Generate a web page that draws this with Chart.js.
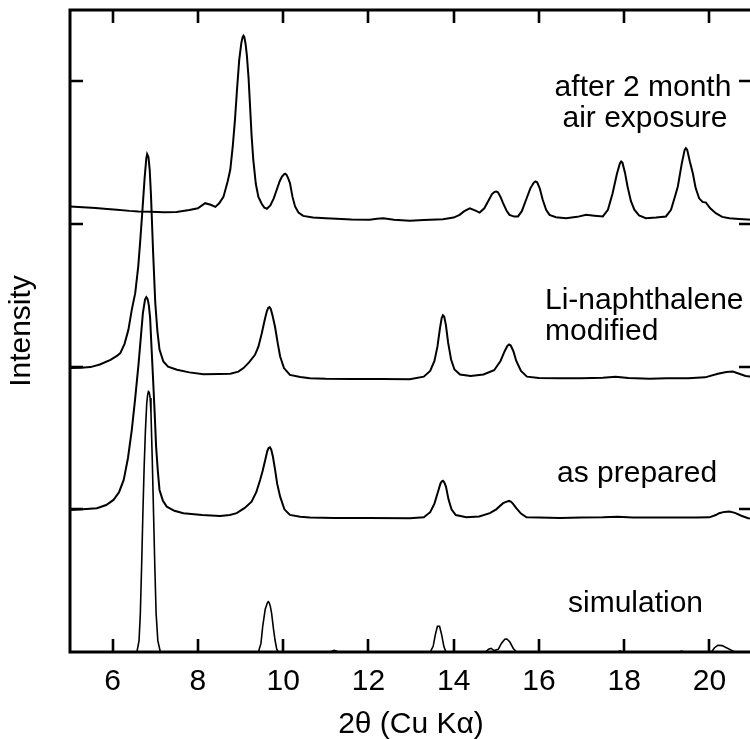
<!DOCTYPE html>
<html><head><meta charset="utf-8">
<script src="https://cdn.jsdelivr.net/npm/chart.js@4.4.1/dist/chart.umd.min.js"></script>
<style>
html,body{margin:0;padding:0;background:#fff;overflow:hidden;width:750px;height:739px;}
#wrap{position:relative;width:754px;height:739px;}
</style></head><body>
<div id="wrap"><canvas id="c"></canvas></div>
<script>
// ---- tick values ----
const xTickValues = [6, 8, 10, 12, 14, 16, 18, 20];
const yTickValues = [1, 2, 3, 4];

// ---- series labels ----
const seriesNames = ["after 2 month air exposure", "Li-naphthalene modified", "as prepared", "simulation"];

// ---- after 2 month air exposure (offset trace) ----
const airX = [5.0,5.3,5.6,5.8,6.1,6.4,6.6,6.9,7.2,7.5,7.8,8.0,8.17,8.3,8.41,8.5,8.6,8.7,8.76,8.82,8.87,8.92,8.97,9.02,9.05,9.07,9.09,9.12,9.15,9.19,9.22,9.26,9.30,9.36,9.42,9.50,9.56,9.62,9.70,9.78,9.85,9.92,9.97,10.02,10.05,10.08,10.12,10.16,10.22,10.28,10.36,10.47,10.7,11.0,11.25,11.6,12.03,12.2,12.35,12.6,12.97,13.3,13.75,14.0,14.14,14.25,14.38,14.5,14.61,14.72,14.81,14.9,14.96,15.0,15.04,15.1,15.16,15.24,15.31,15.42,15.51,15.6,15.70,15.80,15.88,15.92,15.96,16.02,16.09,16.17,16.25,16.4,16.64,16.9,17.11,17.3,17.50,17.62,17.73,17.83,17.9,17.93,17.96,18.02,18.08,18.16,18.24,18.35,18.51,18.75,18.98,19.1,19.2,19.26,19.35,19.42,19.45,19.48,19.54,19.61,19.68,19.76,19.84,19.92,20.02,20.15,20.3,20.47,20.7,21.0];
const airY = [3.123,3.118,3.112,3.107,3.100,3.092,3.088,3.085,3.083,3.084,3.098,3.110,3.146,3.135,3.12,3.145,3.19,3.30,3.38,3.55,3.73,3.95,4.15,4.27,4.31,4.32,4.31,4.26,4.18,4.02,3.85,3.62,3.45,3.28,3.19,3.14,3.115,3.107,3.13,3.18,3.24,3.30,3.33,3.348,3.352,3.345,3.32,3.287,3.19,3.123,3.08,3.057,3.045,3.04,3.036,3.032,3.03,3.036,3.04,3.03,3.022,3.028,3.034,3.045,3.064,3.09,3.11,3.095,3.08,3.11,3.16,3.21,3.225,3.228,3.222,3.19,3.146,3.095,3.064,3.052,3.053,3.09,3.17,3.25,3.29,3.298,3.292,3.25,3.17,3.10,3.064,3.048,3.041,3.05,3.064,3.058,3.053,3.10,3.216,3.35,3.425,3.438,3.43,3.36,3.263,3.16,3.10,3.06,3.041,3.045,3.053,3.10,3.20,3.263,3.42,3.52,3.532,3.52,3.44,3.357,3.25,3.18,3.155,3.15,3.11,3.076,3.05,3.04,3.035,3.03];

// ---- Li-naphthalene modified ----
const liX = [5.0,5.25,5.48,5.7,5.95,6.1,6.18,6.28,6.37,6.45,6.53,6.6,6.65,6.70,6.75,6.79,6.81,6.84,6.87,6.90,6.95,7.0,7.05,7.10,7.19,7.3,7.51,7.8,8.13,8.5,8.76,8.95,9.07,9.2,9.34,9.42,9.50,9.57,9.62,9.65,9.68,9.71,9.75,9.81,9.87,9.93,10.02,10.16,10.4,10.63,11.0,11.64,12.3,12.97,13.3,13.45,13.55,13.62,13.68,13.72,13.75,13.78,13.82,13.87,13.94,14.02,14.15,14.4,14.7,14.95,15.1,15.2,15.26,15.3,15.34,15.4,15.47,15.58,15.72,16.0,16.5,17.0,17.5,17.8,18.1,18.6,19.0,19.5,19.9,20.2,20.4,20.55,20.7,20.85,21.0];
const liY = [1.99,1.993,1.997,2.015,2.048,2.075,2.095,2.16,2.258,2.40,2.515,2.70,2.89,3.10,3.32,3.46,3.49,3.47,3.38,3.20,2.80,2.45,2.25,2.12,2.036,2.0,1.978,1.96,1.947,1.948,1.95,1.965,1.99,2.03,2.083,2.14,2.235,2.33,2.39,2.412,2.417,2.405,2.36,2.28,2.17,2.071,1.99,1.942,1.928,1.919,1.915,1.914,1.913,1.912,1.93,1.97,2.04,2.14,2.27,2.34,2.36,2.35,2.29,2.17,2.05,1.98,1.945,1.935,1.945,1.975,2.04,2.11,2.145,2.155,2.148,2.11,2.04,1.97,1.93,1.92,1.918,1.918,1.922,1.93,1.92,1.915,1.918,1.918,1.925,1.95,1.962,1.966,1.95,1.935,1.93];

// ---- as prepared ----
const prepX = [5.0,5.3,5.63,5.85,6.02,6.15,6.26,6.36,6.45,6.53,6.61,6.66,6.71,6.76,6.79,6.82,6.85,6.88,6.91,6.95,6.99,7.02,7.06,7.10,7.18,7.27,7.45,7.66,8.1,8.52,8.75,8.91,9.1,9.26,9.37,9.46,9.52,9.58,9.63,9.66,9.69,9.72,9.76,9.81,9.86,9.93,10.03,10.16,10.4,10.63,11.2,12.0,12.97,13.3,13.45,13.55,13.63,13.69,13.72,13.75,13.78,13.82,13.88,13.95,14.05,14.3,14.6,14.85,15.0,15.16,15.26,15.30,15.34,15.39,15.47,15.58,15.71,16.0,16.5,17.0,17.5,17.85,18.2,18.7,19.2,19.7,20.0,20.15,20.23,20.35,20.47,20.6,20.75,20.91,21.0];
const prepY = [0.996,1.0,1.008,1.03,1.066,1.12,1.206,1.36,1.557,1.78,2.025,2.2,2.375,2.47,2.487,2.475,2.43,2.34,2.15,1.907,1.65,1.44,1.27,1.136,1.06,1.019,0.99,0.973,0.96,0.954,0.96,0.973,1.01,1.054,1.12,1.206,1.27,1.346,1.41,1.43,1.435,1.42,1.37,1.28,1.18,1.089,1.0,0.961,0.948,0.942,0.94,0.939,0.938,0.945,0.98,1.04,1.12,1.18,1.195,1.20,1.19,1.16,1.07,1.0,0.96,0.944,0.95,0.973,1.0,1.043,1.056,1.059,1.054,1.04,1.008,0.97,0.944,0.942,0.94,0.942,0.944,0.948,0.943,0.942,0.943,0.942,0.944,0.96,0.973,0.982,0.984,0.975,0.955,0.938,0.935];

// ---- simulation ----
const simX = [5.0,6.57,6.62,6.65,6.68,6.71,6.74,6.77,6.80,6.82,6.84,6.86,6.88,6.90,6.93,6.96,6.99,7.02,7.06,7.12,9.42,9.48,9.52,9.58,9.63,9.65,9.67,9.70,9.73,9.77,9.81,9.85,9.89,11.1,11.2,11.3,13.45,13.52,13.57,13.62,13.67,13.72,13.77,13.82,14.75,14.82,14.88,14.95,15.05,15.12,15.2,15.25,15.32,15.4,15.48,17.85,17.9,17.95,19.3,19.35,19.4,20.05,20.12,20.2,20.3,20.4,20.5,20.6,21.0];
const simY = [0,0,0.08,0.27,0.6,0.975,1.3,1.557,1.74,1.80,1.826,1.82,1.78,1.674,1.35,0.973,0.6,0.271,0.08,0,0,0.06,0.177,0.3,0.345,0.353,0.348,0.32,0.271,0.17,0.084,0.02,0,0,0.012,0,0,0.04,0.12,0.18,0.18,0.12,0.04,0,0,0.02,0.026,0.01,0.02,0.06,0.09,0.091,0.07,0.025,0,0,0.008,0,0,0.006,0,0,0.03,0.047,0.045,0.03,0.015,0,0];

const FONT = '"Liberation Sans", Arial, Helvetica, sans-serif';
const pts = (xs, ys) => xs.map((x, i) => ({x: x, y: ys[i]}));

const framePlugin = {
  id: 'frame',
  afterDraw(chart) {
    const ctx = chart.ctx, a = chart.chartArea, xs = chart.scales.x, ys = chart.scales.y;
    ctx.save();
    ctx.strokeStyle = '#000';
    ctx.lineWidth = 3;
    ctx.strokeRect(a.left, a.top, a.right - a.left, a.bottom - a.top);
    ctx.lineWidth = 2.6;
    const L = 13;
    ctx.beginPath();
    xTickValues.forEach(v => {
      const px = Math.round(xs.getPixelForValue(v));
      ctx.moveTo(px, a.bottom); ctx.lineTo(px, a.bottom - L);
      ctx.moveTo(px, a.top); ctx.lineTo(px, a.top + L);
    });
    yTickValues.forEach(v => {
      const py = Math.round(ys.getPixelForValue(v));
      ctx.moveTo(a.left, py); ctx.lineTo(a.left + L, py);
      ctx.moveTo(a.right, py); ctx.lineTo(a.right - L, py);
    });
    ctx.stroke();

    ctx.fillStyle = '#000';
    ctx.font = '30px ' + FONT;
    ctx.textBaseline = 'alphabetic';
    ctx.textAlign = 'center';
    ctx.fillText('after 2 month', 643, 96);
    ctx.fillText('air exposure', 645, 127);
    ctx.textAlign = 'left';
    ctx.fillText('Li-naphthalene', 545, 309);
    ctx.fillText('modified', 545, 340);
    ctx.fillText('as prepared', 557, 482);
    ctx.fillText('simulation', 568, 612);
    // axis titles
    ctx.textAlign = 'center';
    ctx.fillText('2\u03B8 (Cu K\u03B1)', (a.left + a.right) / 2, 733);
    ctx.save();
    ctx.translate(22, (a.top + a.bottom) / 2);
    ctx.rotate(-Math.PI / 2);
    ctx.textBaseline = 'middle';
    ctx.fillText('Intensity', 0, 0);
    ctx.restore();
    ctx.restore();
  }
};

const lineDs = (label, xs, ys, w) => ({
  label: label, data: pts(xs, ys), borderColor: '#000', backgroundColor: '#000',
  borderWidth: w, pointRadius: 0, tension: 0, fill: false
});

new Chart(document.getElementById('c'), {
  type: 'line',
  data: {
    datasets: [
      lineDs(seriesNames[0], airX, airY, 2),
      lineDs(seriesNames[1], liX, liY, 2),
      lineDs(seriesNames[2], prepX, prepY, 2),
      lineDs(seriesNames[3], simX, simY, 1.6)
    ]
  },
  options: {
    responsive: true, maintainAspectRatio: false, animation: false,
    layout: {padding: {left: 70, top: 10, right: 2, bottom: 0}},
    plugins: {legend: {display: false}, tooltip: {enabled: false}},
    scales: {
      x: {
        type: 'linear', min: 5, max: 21,
        grid: {display: false, drawTicks: false}, border: {display: false},
        afterBuildTicks: s => { s.ticks = xTickValues.map(v => ({value: v})); },
        afterFit: s => { s.height = 87; },
        ticks: {color: '#000', padding: 12, font: {family: FONT, size: 30}, maxRotation: 0, autoSkip: false}
      },
      y: {
        type: 'linear', min: 0, max: 4.5,
        grid: {display: false, drawTicks: false}, border: {display: false},
        ticks: {display: false},
        afterFit: s => { s.width = 0; }
      }
    }
  },
  plugins: [framePlugin]
});
</script>
</body></html>
